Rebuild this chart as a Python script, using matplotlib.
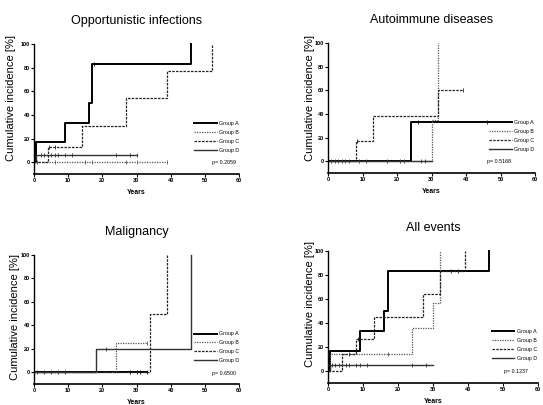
import matplotlib.pyplot as plt
from matplotlib.lines import Line2D

plt.rcParams['font.family'] = ['Liberation Sans', 'DejaVu Sans']

titles = ["Opportunistic infections", "Autoimmune diseases", "Malignancy", "All events"]
p_values = ["p= 0.2059", "p= 0.5168", "p= 0.6500", "p= 0.1237"]
groups = ["Group A", "Group B", "Group C", "Group D"]

# step curves per panel: (times, cumulative incidence %), censor times
opp_A_t = [0, 0.5, 9, 16, 17, 46]
opp_A_y = [0, 17, 33, 50, 83, 100]
opp_A_c = [17.5]
opp_B_t = [0, 39]
opp_B_y = [0, 0]
opp_B_c = [1, 6, 15, 17, 27, 30, 39]
opp_C_t = [0, 4, 14, 27, 39, 52]
opp_C_y = [0, 13, 31, 54, 77, 100]
opp_C_c = [4.5, 6]
opp_D_t = [0, 0.5, 30]
opp_D_y = [0, 6, 6]
opp_D_c = [2, 3, 5, 6, 7, 9, 11, 24, 28, 30]

aut_A_t = [0, 24, 46]
aut_A_y = [0, 33, 33]
aut_A_c = [26, 46]
aut_B_t = [0, 30, 32]
aut_B_y = [0, 35, 100]
aut_B_c = []
aut_C_t = [0, 8, 13, 32, 39]
aut_C_y = [0, 17, 38, 60, 60]
aut_C_c = [8.5, 39]
aut_D_t = [0, 30]
aut_D_y = [0, 0]
aut_D_c = [1, 2, 3, 4, 5, 6, 9, 11, 17, 21, 22, 27, 28]

mal_A_t = [0, 33]
mal_A_y = [0, 0]
mal_A_c = [28, 30, 31, 33]
mal_B_t = [0, 24, 33]
mal_B_y = [0, 25, 25]
mal_B_c = [33]
mal_C_t = [0, 34, 39]
mal_C_y = [0, 50, 100]
mal_C_c = [1, 3, 5, 7, 9]
mal_D_t = [0, 18, 46]
mal_D_y = [0, 20, 100]
mal_D_c = [21]

all_A_t = [0, 0.5, 9, 16, 17, 46]
all_A_y = [0, 17, 33, 50, 83, 100]
all_A_c = []
all_B_t = [0, 0.5, 24, 30, 32]
all_B_y = [0, 14, 36, 57, 100]
all_B_c = [17]
all_C_t = [0, 4, 8, 13, 27, 32, 39]
all_C_y = [0, 14, 27, 45, 64, 83, 100]
all_C_c = [6, 8.5, 35, 37]
all_D_t = [0, 0.5, 30]
all_D_y = [0, 5, 5]
all_D_c = [1, 2, 3, 4, 5, 6, 8, 9, 11, 24, 28]

panels = [
    [(opp_A_t, opp_A_y, opp_A_c), (opp_B_t, opp_B_y, opp_B_c),
     (opp_C_t, opp_C_y, opp_C_c), (opp_D_t, opp_D_y, opp_D_c)],
    [(aut_A_t, aut_A_y, aut_A_c), (aut_B_t, aut_B_y, aut_B_c),
     (aut_C_t, aut_C_y, aut_C_c), (aut_D_t, aut_D_y, aut_D_c)],
    [(mal_A_t, mal_A_y, mal_A_c), (mal_B_t, mal_B_y, mal_B_c),
     (mal_C_t, mal_C_y, mal_C_c), (mal_D_t, mal_D_y, mal_D_c)],
    [(all_A_t, all_A_y, all_A_c), (all_B_t, all_B_y, all_B_c),
     (all_C_t, all_C_y, all_C_c), (all_D_t, all_D_y, all_D_c)],
]

styles = [
    dict(color="black", lw=1.4, ls="-"),
    dict(color="#555555", lw=0.9, ls=(0, (1, 1))),
    dict(color="#222222", lw=0.9, ls=(0, (2, 1))),
    dict(color="#333333", lw=1.0, ls="-"),
]

# axes rectangles in pixels: left, right, top, bottom
rects = [(34, 239, 38, 174), (328, 535, 37, 173), (34, 239, 249, 384), (328, 538, 245, 383)]
ylab_pos = [(-0.09, 0.56), (-0.065, 0.555), (-0.066, 0.5), (-0.064, 0.57)]
p_x = [0.87, 0.77, 0.87, 0.84]
W, H = 543, 405

fig = plt.figure(figsize=(5.43, 4.05), dpi=100)

for i in range(4):
    l, r, t, b = rects[i]
    ax = fig.add_axes([l / W, (H - b) / H, (r - l) / W, (b - t) / H])
    for (tt, yy, cc), st in zip(panels[i], styles):
        ax.step(tt, yy, where="post", **st)
        if cc:
            cy = []
            for c in cc:
                v = yy[0]
                for tk, yk in zip(tt, yy):
                    if tk <= c:
                        v = yk
                cy.append(v)
            ax.plot(cc, cy, ls="none", marker="|", ms=3, mew=0.6, color=st["color"])
    ax.set_xlim(0, 60)
    ax.set_ylim(-10, 105)
    ax.set_xticks([0, 10, 20, 30, 40, 50, 60])
    ax.set_yticks([0, 20, 40, 60, 80, 100])
    ax.tick_params(labelsize=4, length=2, width=0.8, pad=1)
    for lab in ax.get_xticklabels() + ax.get_yticklabels():
        lab.set_fontweight("bold")
    ax.spines["top"].set_visible(False)
    ax.spines["right"].set_visible(False)
    ax.spines["left"].set_bounds(-10, 100)
    ax.spines["bottom"].set_linewidth(1.2)
    ax.spines["left"].set_linewidth(1.0)
    ax.set_xlabel("Years", fontsize=5, fontweight="bold", labelpad=4)
    ax.set_ylabel("Cumulative incidence [%]", fontsize=8)
    ax.yaxis.set_label_coords(*ylab_pos[i])
    ax.set_title(titles[i], fontsize=9, pad=10)
    handles = [Line2D([], [], **st) for st in styles]
    ax.legend(handles, groups, loc="upper left", bbox_to_anchor=(0.78, 0.39),
              frameon=False, fontsize=3.8, handlelength=4.3, labelspacing=0.75,
              borderpad=0, borderaxespad=0, handletextpad=0.4)
    ax.text(p_x[i], 0.07, p_values[i], transform=ax.transAxes, fontsize=3.8)

fig.savefig("out.png", dpi=100)
